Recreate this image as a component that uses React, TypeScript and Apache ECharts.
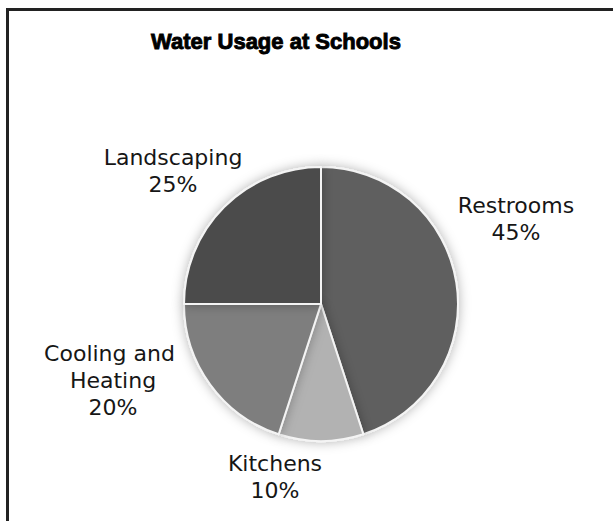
import React, { useEffect, useRef } from "react";
import * as echarts from "echarts";

const categories = ["Restrooms", "Kitchens", "Cooling and Heating", "Landscaping"];
const values = [45, 10, 20, 25];
const colors = ["#5f5f5f", "#b2b2b2", "#7e7e7e", "#4b4b4b"];
// label centers (layout only)
const labelPos = [
  [516, 219],
  [275, 477],
  [113, 380],
  [173, 171],
];

export default function App() {
  const ref = useRef<HTMLDivElement>(null);
  useEffect(() => {
    if (!ref.current) return;
    const chart = echarts.init(ref.current, null, { renderer: "svg" });
    chart.setOption({
      animation: false,
      backgroundColor: "#ffffff",
      graphic: [
        { type: "line", shape: { x1: 6, y1: 9.5, x2: 613, y2: 9.5 }, style: { stroke: "#222", lineWidth: 3 } },
        { type: "line", shape: { x1: 7.5, y1: 8, x2: 7.5, y2: 521 }, style: { stroke: "#222", lineWidth: 3 } },
        {
          type: "text",
          x: 276,
          y: 41,
          style: {
            text: "Water Usage at Schools",
            font: "bold 22px 'Liberation Sans', Arial, sans-serif",
            fill: "#000",
            stroke: "#000",
            lineWidth: 0.9,
            textAlign: "center",
            textVerticalAlign: "middle",
          },
        },
      ],
      series: [
        {
          type: "pie",
          center: [321, 304],
          radius: 137,
          startAngle: 90,
          clockwise: true,
          data: categories.map((c, i) => ({ name: c, value: values[i], itemStyle: { color: colors[i] } })),
          itemStyle: {
            borderColor: "#f4f4f4",
            borderWidth: 2,
            shadowBlur: 12,
            shadowColor: "rgba(0,0,0,0.3)",
          },
          label: {
            show: true,
            position: "outside",
            formatter: (p: any) => `${p.name}\n${p.value}%`,
            fontFamily: "'DejaVu Sans', sans-serif",
            fontSize: 22,
            lineHeight: 27,
            color: "#161616",
            width: 150,
            overflow: "break",
            align: "center",
          },
          labelLine: { show: false },
          labelLayout: (params: any) => ({
            x: labelPos[params.dataIndex][0],
            y: labelPos[params.dataIndex][1],
            align: "center",
            verticalAlign: "middle",
          }),
          emphasis: { disabled: true },
        },
      ],
    });
    return () => chart.dispose();
  }, []);
  return (
    <div
      ref={ref}
      style={{ position: "absolute", left: 0, top: 0, width: 613, height: 521 }}
    />
  );
}
